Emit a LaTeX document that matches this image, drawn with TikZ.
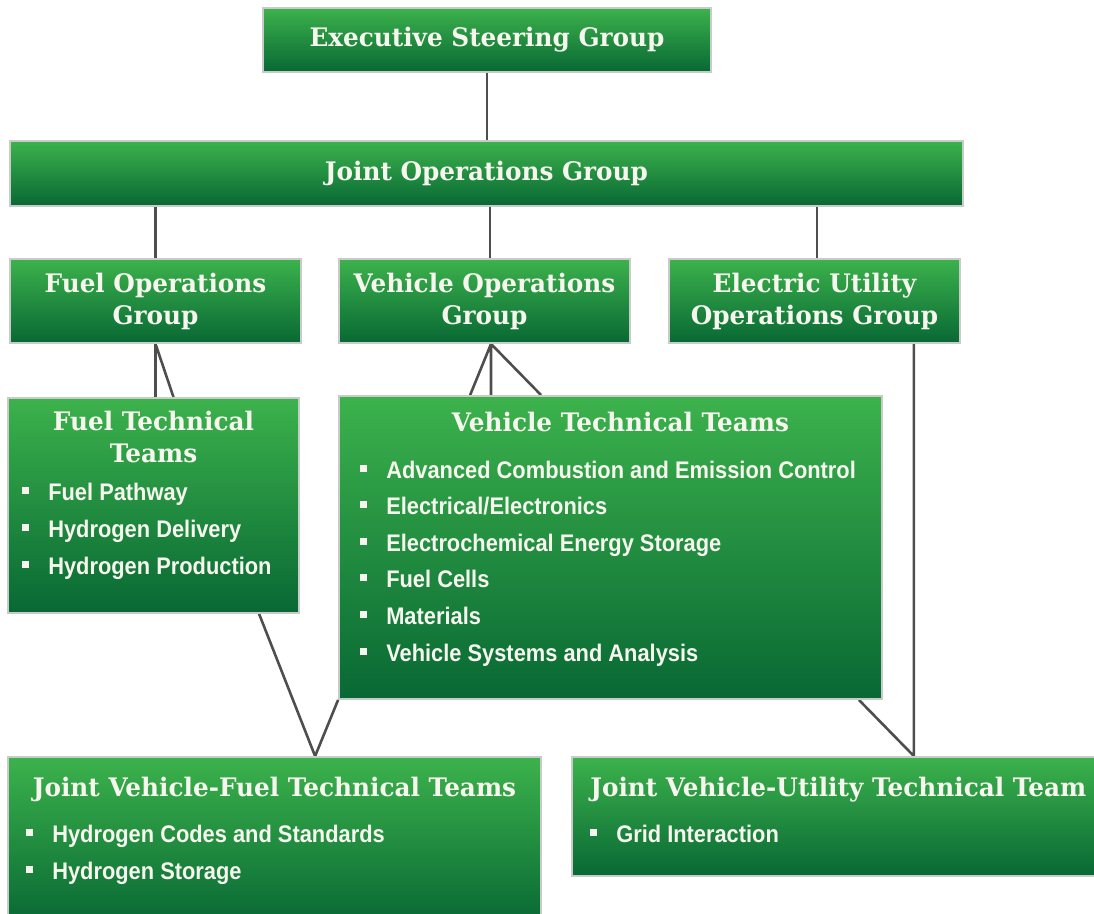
\documentclass[tikz,border=0pt]{standalone}
\usepackage{fontspec}
\usetikzlibrary{backgrounds}
\newfontfamily\titlefont{DejaVu Serif}[FakeStretch=0.97]
\newfontfamily\listfont{Liberation Sans}[FakeStretch=0.91]
\definecolor{boxtop}{RGB}{60,178,76}
\definecolor{boxbot}{RGB}{8,104,52}
\definecolor{boxedge}{RGB}{200,204,200}
\definecolor{linkgray}{RGB}{78,78,78}
\definecolor{textwhite}{RGB}{246,246,238}
\newcommand{\bitem}[1]{\makebox[26pt][l]{\rule[6.5pt]{7pt}{7pt}}#1}

\begin{document}
\begin{tikzpicture}[x=1pt, y=-1pt,
    grp/.style={rectangle, draw=boxedge, line width=1.8pt, top color=boxtop, bottom color=boxbot,
        inner sep=0pt, text=textwhite, align=center, font=\titlefont\bfseries\fontsize{25.5}{32}\selectfont},
    ttl/.style={inner sep=0pt, text=textwhite, align=center, font=\titlefont\bfseries\fontsize{25.5}{32}\selectfont},
    lst/.style={inner sep=0pt, text=textwhite, align=left, font=\listfont\bfseries\fontsize{24}{36.6}\selectfont},
    link/.style={draw=linkgray, line width=2.6pt}]
    \useasboundingbox (0,0) rectangle (1094,913);
    \clip (0,0) rectangle (1094,913);

    \node[grp, minimum width=448pt, minimum height=64pt] (esg) at (487,40) {Executive Steering Group};
    \node[grp, minimum width=953pt, minimum height=65pt] (jog) at (486.5,173.5) {Joint Operations Group};
    \node[grp, minimum width=291pt, minimum height=84pt] (fog) at (155.5,301) {Fuel Operations\\Group};
    \node[grp, minimum width=291pt, minimum height=84pt] (vog) at (484.5,301) {Vehicle Operations\\Group};
    \node[grp, minimum width=291pt, minimum height=84pt] (eog) at (814.5,301) {Electric Utility\\Operations Group};

    \node[grp, minimum width=291pt, minimum height=215pt] (ftt) at (153.5,505.5) {};
    \node[ttl, anchor=base] (ftt-title) at ([yshift=-65pt]ftt.north) {Fuel Technical\\Teams};
    \node[lst, anchor=base west] (ftt-list) at ([xshift=15pt,yshift=-177pt]ftt.north west)
        {\bitem{Fuel Pathway}\\\bitem{Hydrogen Delivery}\\\bitem{Hydrogen Production}};

    \node[grp, minimum width=543pt, minimum height=303pt] (vtt) at (610.5,547.5) {};
    \node[ttl, anchor=base] (vtt-title) at ([xshift=10pt,yshift=-36pt]vtt.north) {Vehicle Technical Teams};
    \node[lst, anchor=base west] (vtt-list) at ([xshift=22pt,yshift=-266pt]vtt.north west)
        {\bitem{Advanced Combustion and Emission Control}\\\bitem{Electrical/Electronics}\\
         \bitem{Electrochemical Energy Storage}\\\bitem{Fuel Cells}\\\bitem{Materials}\\
         \bitem{Vehicle Systems and Analysis}};

    \node[grp, minimum width=533pt, minimum height=168pt] (jvf) at (274.5,841) {};
    \node[ttl, anchor=base] (jvf-title) at ([yshift=-40pt]jvf.north) {Joint Vehicle-Fuel Technical Teams};
    \node[lst, anchor=base west] (jvf-list) at ([xshift=19pt,yshift=-123pt]jvf.north west)
        {\bitem{Hydrogen Codes and Standards}\\\bitem{Hydrogen Storage}};

    \node[grp, minimum width=538pt, minimum height=119pt] (jvu) at (841,816.5) {};
    \node[ttl, anchor=base west] (jvu-title) at ([xshift=19pt,yshift=-40pt]jvu.north west) {Joint Vehicle-Utility Technical Team};
    \node[lst, anchor=base west] (jvu-list) at ([xshift=19pt,yshift=-86pt]jvu.north west) {\bitem{Grid Interaction}};

    \begin{scope}[on background layer]
        \draw[link] (esg.south) -- (esg.south |- jog.north);
        \draw[link] (fog.north) -- (fog.north |- jog.south);
        \coordinate (vogtop) at ([xshift=5.5pt]vog.north);
        \draw[link] (vogtop) -- (vogtop |- jog.south);
        \draw[link] ([xshift=2.5pt]eog.north) -- ([xshift=2.5pt]eog.north |- jog.south);
        \draw[link] (fog.south) -- (fog.south |- ftt.north) (fog.south) -- ([xshift=20pt]ftt.north);
        \coordinate (vogfoot) at ([xshift=6.5pt]vog.south);
        \draw[link] ([xshift=132pt]vtt.north west) -- (vogfoot) -- ([xshift=203pt]vtt.north west)
            (vogfoot) -- (vogfoot |- vtt.north);
        \coordinate (jvfapex) at ([xshift=308pt]jvf.north west);
        \draw[link] ([xshift=252pt]ftt.south west) -- (jvfapex) -- (vtt.south west);
        \coordinate (eogfoot) at ([xshift=-47pt]eog.south east);
        \draw[link] (eogfoot) -- (eogfoot |- jvu.north) -- ([xshift=-24pt]vtt.south east);
    \end{scope}
\end{tikzpicture}
\end{document}
